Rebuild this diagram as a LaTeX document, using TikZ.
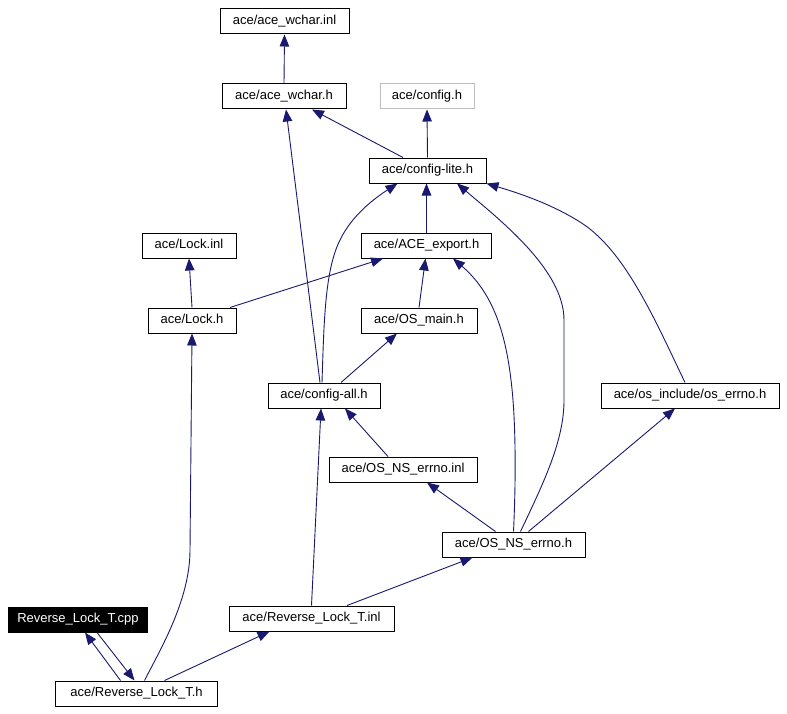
\documentclass[tikz,border=0pt]{standalone}
\usepackage{fontspec}
\setmainfont{Liberation Sans}
\usetikzlibrary{arrows.meta}
\definecolor{edgeblue}{HTML}{191970}
\definecolor{lightgrayborder}{HTML}{BFBFBF}
\begin{document}
\begin{tikzpicture}[x=1bp,y=-1bp,
  filebox/.style={draw=black,line width=1bp,rectangle,minimum height=25bp,inner sep=0pt,
    font=\fontsize{13bp}{15bp}\selectfont,text height=9.6bp,text depth=2.8bp,fill=white},
  dep/.style={draw=edgeblue,line width=0.9bp,-{Triangle[length=12bp,width=9.5bp]},color=edgeblue}]
\useasboundingbox[fill=white] (0,0) rectangle (787,714);
\node[filebox,minimum width=129bp] (wcharinl) at (284.5,21.5) {ace/ace\_wchar.inl};
\node[filebox,minimum width=124bp] (wcharh) at (284,96.5) {ace/ace\_wchar.h};
\node[filebox,minimum width=94bp,draw=lightgrayborder] (config) at (427,96.5) {ace/config.h};
\node[filebox,minimum width=117bp] (lite) at (427.5,170.5) {ace/config-lite.h};
\node[filebox,minimum width=94bp] (lockinl) at (189,245.5) {ace/Lock.inl};
\node[filebox,minimum width=130bp] (export) at (426.5,245.5) {ace/ACE\_export.h};
\node[filebox,minimum width=88bp] (lockh) at (192,320.5) {ace/Lock.h};
\node[filebox,minimum width=116bp] (osmain) at (419,320.5) {ace/OS\_main.h};
\node[filebox,minimum width=112bp] (cfgall) at (324,395.5) {ace/config-all.h};
\node[filebox,minimum width=178bp] (oserrno) at (690,395.5) {ace/os\_include/os\_errno.h};
\node[filebox,minimum width=148bp] (nsinl) at (403,469.5) {ace/OS\_NS\_errno.inl};
\node[filebox,minimum width=143bp] (nsh) at (513.5,544.5) {ace/OS\_NS\_errno.h};
\node[filebox,minimum width=138bp,fill=black,text=white] (cpp) at (78,619.5) {Reverse\_Lock\_T.cpp};
\node[filebox,minimum width=165bp] (inl) at (311.5,618.5) {ace/Reverse\_Lock\_T.inl};
\node[filebox,minimum width=161bp] (revh) at (136.5,693.5) {ace/Reverse\_Lock\_T.h};

\draw[dep] (wcharh.north) -- (wcharinl.south);
\draw[dep] ([xshift=-24.5bp]lite.north) -- ([xshift=28bp]wcharh.south);
\draw[dep] (lite.north) -- (config.south);
\draw[dep] (export.north) -- ([xshift=-1bp]lite.south);
\draw[dep] (lockh.north) -- (lockinl.south);
\draw[dep] ([xshift=38bp]lockh.north) -- ([xshift=-43.5bp]export.south);
\draw[dep] (osmain.north) -- ([xshift=-1bp]export.south);
\draw[dep] ([xshift=-2bp]cfgall.north) .. controls (324,320) and (325,270) .. (340,240)
  .. controls (352,215) and (375,198) .. ([xshift=-30bp]lite.south);
\draw[dep] ([xshift=-4bp]cfgall.north) -- ([xshift=2bp]wcharh.south);
\draw[dep] ([xshift=17bp]cfgall.north) -- ([xshift=-22bp]osmain.south);
\draw[dep] ([xshift=-5bp]oserrno.north) .. controls (655,320) and (625,250) .. (580,222)
  .. controls (550,203) and (515,192) .. (lite.south east);
\draw[dep] ([xshift=-15bp]nsinl.north) -- ([xshift=21bp]cfgall.south);
\draw[dep] ([xshift=-18bp]nsh.north) -- ([xshift=24bp]nsinl.south);
\draw[dep] ([xshift=15bp]nsh.north) -- ([xshift=-15bp]oserrno.south);
\draw[dep] ([xshift=7bp]nsh.north) .. controls (545,480) and (564,440) .. (564,400)
  -- (564,320) .. controls (564,270) and (500,220) .. ([xshift=29.5bp]lite.south);
\draw[dep] (nsh.north) .. controls (516,480) and (516,420) .. (511,380)
  .. controls (505,330) and (492,292) .. ([xshift=26.5bp]export.south);
\draw[dep] ([xshift=35.5bp]inl.north) -- ([xshift=-41bp]nsh.south);
\draw[dep] (inl.north) -- ([xshift=-3bp]cfgall.south);
\draw[dep] ([xshift=-16bp]revh.north) -- ([xshift=7bp]cpp.south);
\draw[dep] ([xshift=19bp]cpp.south) -- ([xshift=-2bp]revh.north);
\draw[dep] ([xshift=8bp]revh.north) .. controls (160,650) and (190,600) .. (190,550) -- (lockh.south);
\draw[dep] ([xshift=28bp]revh.north) -- ([xshift=-42bp]inl.south);
\end{tikzpicture}
\end{document}
